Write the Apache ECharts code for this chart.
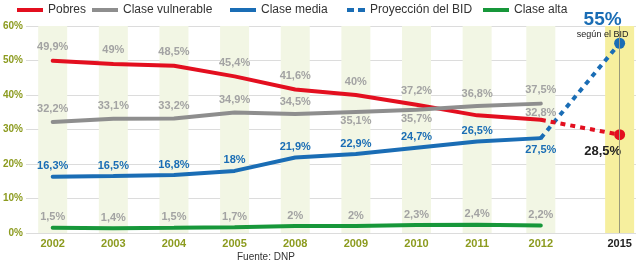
<!DOCTYPE html>
<html lang="es">
<head>
    <meta charset="UTF-8">
    <title>Clases sociales</title>
    <script src="https://cdn.jsdelivr.net/npm/echarts@6.0.0/dist/echarts.min.js"></script>
</head>
<style>
html,body{margin:0;padding:0;background:#fff;}
#chartBox{width:640px;height:266px;}
</style>
<body>
    <div id="chartBox"></div>
</body>
<script>
// datos
const years = ['2002', '2003', '2004', '2005', '2008', '2009', '2010', '2011', '2012', '2015'];
// posición de cada año en el eje (2015 va más separado)
const slots = [0, 1, 2, 3, 4, 5, 6, 7, 8.05, 9.35];
const pobres = [49.9, 49, 48.5, 45.4, 41.6, 40, 37.2, 34.1, 32.8];
const vulnerable = [32.2, 33.1, 33.2, 34.9, 34.5, 35.1, 35.7, 36.8, 37.5];
const media = [16.3, 16.5, 16.8, 18, 21.9, 22.9, 24.7, 26.5, 27.5];
const alta = [1.5, 1.4, 1.5, 1.7, 2, 2, 2.3, 2.4, 2.2];
const proyMedia = [27.5, 55];
const proyPobres = [32.8, 28.5];
const yTicks = [0, 10, 20, 30, 40, 50, 60];

const FONT = 'Liberation Sans';
const OLIVE = '#8c9b1f';
const RED = '#e30f1f', GRAY = '#8e8e8e', BLUE = '#1a6db5', GREEN = '#17973a';

function pct(v) {
    return String(v).replace('.', ',') + '%';
}

// serie de línea con etiquetas; tweaks = ajustes de etiqueta por índice
function lineSeries(name, values, color, labelColor, distance, tweaks) {
    return {
        type: 'line',
        name: name,
        symbol: 'circle',
        symbolSize: 0,
        showSymbol: true,
        itemStyle: {color: color},
        lineStyle: {color: color, width: 4, cap: 'round'},
        z: 3,
        data: values.map((v, i) => {
            let item = {value: [slots[i], v]};
            if (tweaks[i]) item.label = tweaks[i];
            return item;
        }),
        label: {
            show: true,
            position: 'top',
            distance: distance,
            color: labelColor,
            fontFamily: FONT,
            fontWeight: 'bold',
            fontSize: 11,
            formatter: p => pct(p.value[1])
        }
    };
}

function legendItem(name, left, icon, width) {
    return {
        left: left,
        top: 4,
        padding: 0,
        data: [{name: name, icon: icon}],
        itemWidth: width,
        itemHeight: 4,
        itemGap: 0,
        itemStyle: {opacity: 1},
        textStyle: {fontFamily: FONT, fontSize: 12, color: '#333'}
    };
}

const stripes = years.map((y, i) => ({
    value: [slots[i], 60],
    itemStyle: {color: i === years.length - 1 ? '#f6ef9e' : '#f2f6e4'}
}));

const below = {position: 'bottom', distance: 4};

let option = {
    animation: false,
    grid: {left: 20, right: 4, top: 26, bottom: 33},
    title: {
        text: 'Fuente: DNP',
        left: 237,
        top: 252,
        padding: 0,
        textStyle: {fontFamily: FONT, fontSize: 10, fontWeight: 'normal', color: '#333'}
    },
    legend: [
        legendItem('Pobres', 17, 'rect', 26),
        legendItem('Clase vulnerable', 92, 'rect', 26),
        legendItem('Clase media', 230, 'rect', 26),
        legendItem('Proyección del BID', 347, 'path://M0,0h7v4h-7z M11,0h7v4h-7z', 18),
        legendItem('Clase alta', 483, 'rect', 26)
    ],
    xAxis: {
        type: 'value',
        min: -0.44,
        max: 9.62,
        axisLine: {show: false},
        axisTick: {show: false},
        splitLine: {show: false},
        axisLabel: {
            customValues: slots,
            margin: 5,
            fontFamily: FONT,
            fontWeight: 'bold',
            fontSize: 11,
            color: OLIVE,
            formatter: v => {
                let y = years[slots.indexOf(v)];
                return y === '2015' ? '{k|' + y + '}' : y;
            },
            rich: {k: {color: '#222', fontFamily: FONT, fontWeight: 'bold', fontSize: 11}}
        }
    },
    yAxis: {
        type: 'value',
        min: 0,
        max: 60,
        interval: 10,
        axisLine: {show: false},
        axisTick: {show: false},
        splitLine: {lineStyle: {color: '#dcdcdc', width: 1}},
        axisLabel: {
            customValues: yTicks,
            margin: 3,
            padding: [6, 0, 0, 0],
            fontFamily: FONT,
            fontWeight: 'bold',
            fontSize: 10,
            color: OLIVE,
            formatter: '{value}%'
        }
    },
    series: [
        {
            type: 'bar',
            name: 'franjas',
            silent: true,
            barWidth: 29,
            z: 1,
            data: stripes,
            markLine: {
                silent: true,
                symbol: 'none',
                label: {show: false},
                lineStyle: {color: '#9a9a7a', width: 1, type: 'solid'},
                data: [{xAxis: slots[slots.length - 1]}]
            }
        },
        lineSeries('Pobres', pobres, RED, '#a3a3a3', 8, {7: {show: false}, 8: {distance: 1}}),
        lineSeries('Clase vulnerable', vulnerable, GRAY, '#a3a3a3', 7, {5: below, 6: below, 8: {distance: 8}}),
        lineSeries('Clase media', media, BLUE, BLUE, 5, {8: {position: 'bottom', distance: 6}}),
        lineSeries('Clase alta', alta, GREEN, '#a3a3a3', 5, {}),
        {
            type: 'line',
            name: 'Proyección del BID',
            z: 4,
            itemStyle: {color: BLUE},
            lineStyle: {color: BLUE, width: 4, type: [5, 5]},
            symbolSize: 11,
            data: [
                {value: [slots[8], proyMedia[0]], symbol: 'none'},
                {
                    value: [slots[9], proyMedia[1]],
                    symbol: 'circle',
                    label: {
                        show: true,
                        position: 'top',
                        distance: -3,
                        offset: [-17, 0],
                        formatter: p => '{a|' + pct(p.value[1]) + '}\n{b|según el BID}',
                        rich: {
                            a: {color: BLUE, fontFamily: FONT, fontWeight: 'bold', fontSize: 19, lineHeight: 17, align: 'center'},
                            b: {color: '#222', fontFamily: FONT, fontSize: 9, lineHeight: 12, align: 'center'}
                        }
                    }
                }
            ]
        },
        {
            type: 'line',
            name: 'Proyección pobres',
            z: 4,
            itemStyle: {color: RED},
            lineStyle: {color: RED, width: 4, type: [5, 5]},
            symbolSize: 11,
            data: [
                {value: [slots[8], proyPobres[0]], symbol: 'none'},
                {
                    value: [slots[9], proyPobres[1]],
                    symbol: 'circle',
                    label: {
                        show: true,
                        position: 'bottom',
                        distance: 5,
                        offset: [-17, 0],
                        color: '#222',
                        fontFamily: FONT,
                        fontWeight: 'bold',
                        fontSize: 13,
                        formatter: p => pct(p.value[1])
                    }
                }
            ]
        }
    ]
};

let chartObj = echarts.init(document.getElementById('chartBox'));
chartObj.setOption(option);
</script>
</html>
